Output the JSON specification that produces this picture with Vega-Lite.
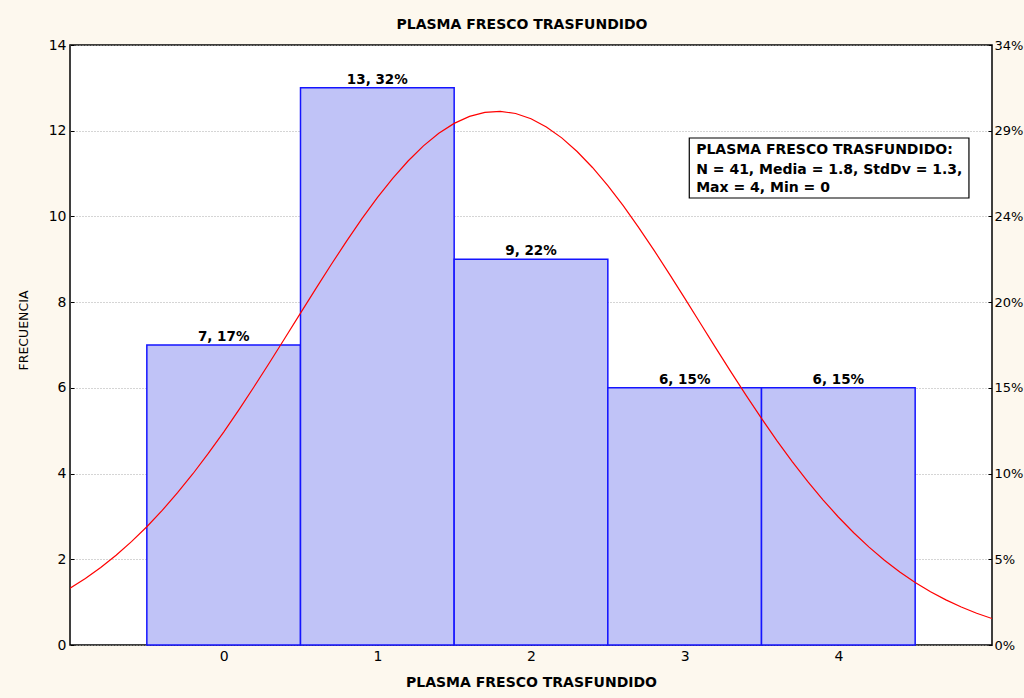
{
  "$schema": "https://vega.github.io/schema/vega-lite/v6.json",
  "width": 922,
  "height": 600,
  "autosize": {"type": "none"},
  "padding": {"left": 70, "top": 45, "right": 32, "bottom": 53},
  "background": "#FDF8EE",
  "config": {
    "view": {"fill": "white", "stroke": "black", "strokeWidth": 1.5},
    "font": "DejaVu Sans",
    "axis": {"labelFont": "DejaVu Sans", "titleFont": "DejaVu Sans", "labelColor": "black", "titleColor": "black", "domain": false, "tickColor": "black"}
  },
  "title": {"text": "PLASMA FRESCO TRASFUNDIDO", "fontSize": 14, "fontWeight": "bold", "offset": 6, "dx": -9, "color": "black", "font": "DejaVu Sans"},
  "datasets": {
    "bars": [
      {"valor": 0, "lo": -0.5, "hi": 0.5, "n": 7, "lab": "7, 17%"},
      {"valor": 1, "lo": 0.5, "hi": 1.5, "n": 13, "lab": "13, 32%"},
      {"valor": 2, "lo": 1.5, "hi": 2.5, "n": 9, "lab": "9, 22%"},
      {"valor": 3, "lo": 2.5, "hi": 3.5, "n": 6, "lab": "6, 15%"},
      {"valor": 4, "lo": 3.5, "hi": 4.5, "n": 6, "lab": "6, 15%"}
    ],
    "curve": [
      {"x": -1.0, "y": 1.326}, {"x": -0.9, "y": 1.552}, {"x": -0.8, "y": 1.808}, {"x": -0.7, "y": 2.094},
      {"x": -0.6, "y": 2.411}, {"x": -0.5, "y": 2.759}, {"x": -0.4, "y": 3.140}, {"x": -0.3, "y": 3.553},
      {"x": -0.2, "y": 3.996}, {"x": -0.1, "y": 4.469}, {"x": 0.0, "y": 4.969}, {"x": 0.1, "y": 5.494},
      {"x": 0.2, "y": 6.038}, {"x": 0.3, "y": 6.598}, {"x": 0.4, "y": 7.168}, {"x": 0.5, "y": 7.743},
      {"x": 0.6, "y": 8.315}, {"x": 0.7, "y": 8.878}, {"x": 0.8, "y": 9.424}, {"x": 0.9, "y": 9.947},
      {"x": 1.0, "y": 10.437}, {"x": 1.1, "y": 10.888}, {"x": 1.2, "y": 11.293}, {"x": 1.3, "y": 11.646},
      {"x": 1.4, "y": 11.940}, {"x": 1.5, "y": 12.171}, {"x": 1.6, "y": 12.335}, {"x": 1.7, "y": 12.429},
      {"x": 1.8, "y": 12.451}, {"x": 1.9, "y": 12.401}, {"x": 2.0, "y": 12.279}, {"x": 2.1, "y": 12.089},
      {"x": 2.2, "y": 11.833}, {"x": 2.3, "y": 11.515}, {"x": 2.4, "y": 11.142}, {"x": 2.5, "y": 10.718},
      {"x": 2.6, "y": 10.250}, {"x": 2.7, "y": 9.746}, {"x": 2.8, "y": 9.214}, {"x": 2.9, "y": 8.661},
      {"x": 3.0, "y": 8.093}, {"x": 3.1, "y": 7.518}, {"x": 3.2, "y": 6.945}, {"x": 3.3, "y": 6.378},
      {"x": 3.4, "y": 5.823}, {"x": 3.5, "y": 5.287}, {"x": 3.6, "y": 4.771}, {"x": 3.7, "y": 4.281},
      {"x": 3.8, "y": 3.819}, {"x": 3.9, "y": 3.388}, {"x": 4.0, "y": 2.987}, {"x": 4.1, "y": 2.619},
      {"x": 4.2, "y": 2.283}, {"x": 4.3, "y": 1.979}, {"x": 4.4, "y": 1.705}, {"x": 4.5, "y": 1.460},
      {"x": 4.6, "y": 1.244}, {"x": 4.7, "y": 1.053}, {"x": 4.8, "y": 0.887}, {"x": 4.9, "y": 0.742},
      {"x": 5.0, "y": 0.618}
    ],
    "box": [{"x1": 3.03, "x2": 4.85, "y1": 10.43, "y2": 11.83}],
    "boxtext": [
      {"x": 3.075, "y": 11.55, "t": "PLASMA FRESCO TRASFUNDIDO:"},
      {"x": 3.075, "y": 11.09, "t": "N = 41, Media = 1.8, StdDv = 1.3,"},
      {"x": 3.075, "y": 10.66, "t": "Max = 4, Min = 0"}
    ]
  },
  "layer": [
    {
      "layer": [
        {
          "data": {"name": "bars"},
          "mark": {"type": "rect", "fill": "#C0C3F7", "stroke": "#1414FF", "strokeWidth": 1.5},
          "encoding": {
            "x": {"field": "lo", "type": "quantitative", "scale": {"domain": [-1, 5], "nice": false, "zero": false},
              "axis": {"values": [0, 1, 2, 3, 4], "format": "d", "title": "PLASMA FRESCO TRASFUNDIDO", "titleFontSize": 14, "titleFontWeight": "bold", "titlePadding": 12, "labelFontSize": 14, "labelPadding": 8, "tickSize": -4, "grid": false}},
            "x2": {"field": "hi"},
            "y": {"field": "n", "type": "quantitative", "scale": {"domain": [0, 14], "nice": false},
              "axis": {"values": [0, 2, 4, 6, 8, 10, 12, 14], "title": "FRECUENCIA", "titleFontSize": 12.5, "titleFontWeight": "normal", "titlePadding": 18, "titleY": 285, "labelFontSize": 14, "labelPadding": 8, "tickSize": -4, "grid": true, "gridDash": [1, 2], "gridColor": "#AAAAAA", "gridWidth": 1}},
            "y2": {"datum": 0}
          }
        },
        {
          "data": {"name": "bars"},
          "mark": {"type": "text", "fontSize": 13.5, "fontWeight": "bold", "baseline": "bottom", "dy": -1, "color": "black"},
          "encoding": {
            "x": {"field": "valor", "type": "quantitative"},
            "y": {"field": "n", "type": "quantitative"},
            "text": {"field": "lab"}
          }
        },
        {
          "data": {"name": "curve"},
          "mark": {"type": "line", "color": "#FF0000", "strokeWidth": 1.2, "clip": true},
          "encoding": {
            "x": {"field": "x", "type": "quantitative"},
            "y": {"field": "y", "type": "quantitative"}
          }
        },
        {
          "data": {"name": "box"},
          "mark": {"type": "rect", "fill": "white", "stroke": "black", "strokeWidth": 1.2},
          "encoding": {
            "x": {"field": "x1", "type": "quantitative"},
            "x2": {"field": "x2"},
            "y": {"field": "y1", "type": "quantitative"},
            "y2": {"field": "y2"}
          }
        },
        {
          "data": {"name": "boxtext"},
          "mark": {"type": "text", "align": "left", "baseline": "middle", "fontSize": 14, "fontWeight": "bold", "color": "black"},
          "encoding": {
            "x": {"field": "x", "type": "quantitative"},
            "y": {"field": "y", "type": "quantitative"},
            "text": {"field": "t"}
          }
        }
      ]
    },
    {
      "data": {"name": "bars"},
      "mark": {"type": "tick", "opacity": 0},
      "encoding": {
        "y": {"field": "n", "type": "quantitative", "scale": {"domain": [0, 14], "nice": false},
          "axis": {"orient": "right", "values": [0, 2, 4, 6, 8, 10, 12, 14], "labelExpr": "format(datum.value / 41 * 100, '.0f') + '%'", "title": null, "labelFontSize": 13, "labelPadding": 6, "tickSize": -4, "grid": false}}
      }
    }
  ],
  "resolve": {"scale": {"y": "independent"}}
}
